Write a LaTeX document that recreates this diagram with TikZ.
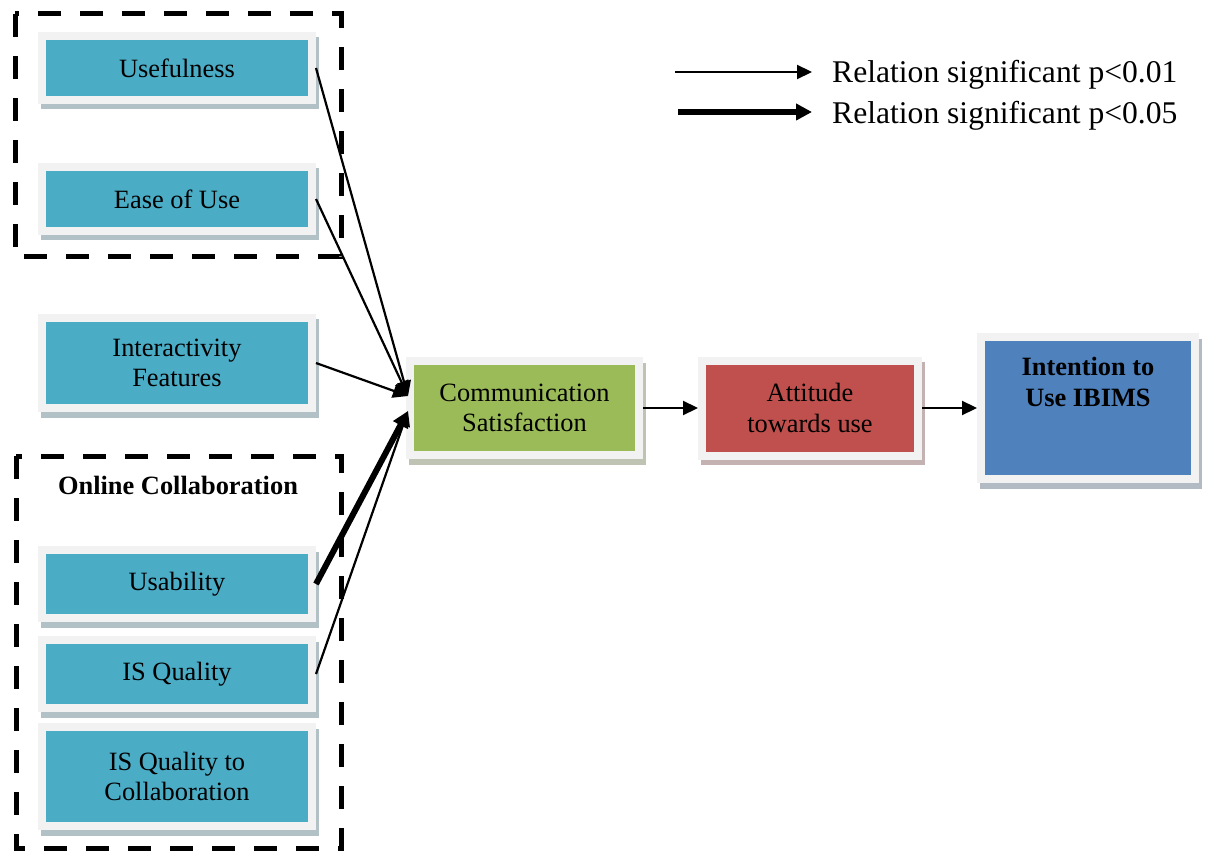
\documentclass[tikz,border=0pt]{standalone}
\usepackage{fontspec}
\setmainfont{Liberation Serif}
\usetikzlibrary{arrows.meta,calc}
\definecolor{caqua}{HTML}{4BACC6}
\definecolor{cgreen}{HTML}{9BBB59}
\definecolor{cred}{HTML}{C0504D}
\definecolor{cblue}{HTML}{4F81BD}
\definecolor{cframe}{HTML}{F2F2F2}
\newcommand\bxfont{\fontsize{26.4}{30.5}\selectfont}
\newcommand\lgfont{\fontsize{31.6}{36}\selectfont}
\tikzset{
  box/.style={draw=cframe, line width=8pt, fill=#1, outer sep=4pt, inner sep=0pt,
    align=center, font=\bxfont, text=black,
    preaction={draw=#1!45!black!35, fill=#1!45!black!35, line width=8pt,
      transform canvas={xshift=3pt,yshift=-5.5pt}}},
  conn/.style={line width=2.2pt, -{Triangle[length=15pt,width=14pt]}},
  connthick/.style={line width=6pt, -{Triangle[length=16pt,width=16pt]}},
  grpbox/.style={line width=5pt, dash pattern=on 23pt off 19pt},
  lgtext/.style={anchor=base west, inner sep=0pt, font=\lgfont}
}
\begin{document}
\begin{tikzpicture}[x=1pt,y=-1pt]
\useasboundingbox (0,0) rectangle (1211,853);
% group frames
\draw[grpbox] (15,14) rectangle (341,257);
\draw[grpbox] (16,456) rectangle (341,848);
\node[font=\bxfont\bfseries, inner sep=0pt] (oc) at (178,485) {Online Collaboration};
% left boxes
\node[box=caqua, minimum width=270pt, minimum height=64pt] (usef) at (177,68) {Usefulness};
\node[box=caqua, minimum width=270pt, minimum height=64pt] (ease) at (177,199) {Ease of Use};
\node[box=caqua, minimum width=270pt, minimum height=90pt] (inter) at (177,363) {Interactivity\\Features};
\node[box=caqua, minimum width=270pt, minimum height=68pt] (usab) at (177,584) {Usability};
\node[box=caqua, minimum width=270pt, minimum height=68pt] (isq) at (177,674) {IS Quality};
\node[box=caqua, minimum width=270pt, minimum height=99pt] (isqc) at (177,776.5) {IS Quality to\\Collaboration};
% chain
\node[box=cgreen, minimum width=229pt, minimum height=94pt] (comm) at (524.5,408) {Communication\\Satisfaction};
\node[box=cred, minimum width=216pt, minimum height=95pt] (att) at (810,408) {Attitude\\towards use};
\node[box=cblue, minimum width=214pt, minimum height=142pt] (intent) at (1088,408) {};
\node[font=\bxfont\bfseries, align=center, inner sep=0pt] (intenttxt) at ($(intent.center)+(0,-26)$) {Intention to\\Use IBIMS};
% connectors
\coordinate (tipA) at ($(comm.west)+(2,-12)$);
\coordinate (tipB) at ($(comm.west)+(2,3)$);
\draw[conn] (usef.east) -- (tipA);
\draw[conn] (ease.east) -- (tipA);
\draw[conn] (inter.east) -- (tipA);
\draw[connthick] (usab.east) -- (tipB);
\draw[conn] (isq.east) -- (tipB);
\draw[conn] (comm.east) -- (att.west);
\draw[conn] (att.east) -- (intent.west);
% legend
\coordinate (l1a) at (675,72);
\coordinate (l1b) at (812,72);
\coordinate (l2a) at (678,112);
\coordinate (l2b) at (812,112);
\draw[conn] (l1a) -- (l1b);
\draw[connthick] (l2a) -- (l2b);
\node[lgtext] (lg1) at (832,83) {Relation significant p<0.01};
\node[lgtext] (lg2) at (832,124) {Relation significant p<0.05};
\end{tikzpicture}
\end{document}
